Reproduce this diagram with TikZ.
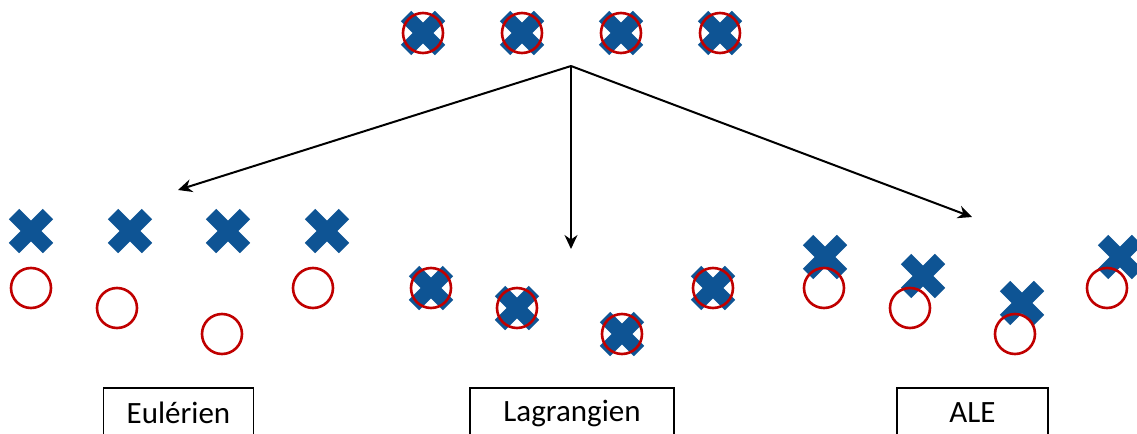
\documentclass[tikz,border=0pt]{standalone}
\usepackage{fontspec}
\setmainfont{Carlito}
\usetikzlibrary{arrows.meta}
\definecolor{bleucroix}{RGB}{14,84,148}
\definecolor{rougecercle}{RGB}{192,0,0}
\tikzset{
  croix/.style={line width=7.3pt, bleucroix},
  cercle/.style={line width=1.3pt, rougecercle},
  fleche/.style={line width=1pt, -{Stealth[length=7pt, width=6.5pt]}},
  boite/.style={draw, line width=0.7pt, minimum width=#1, minimum height=25pt,
    inner sep=0pt, font=\fontsize{15.5}{18}\selectfont}
}
\newcommand{\croixat}[2]{\draw[croix, shift={(#1,#2)}] (-17,-17) -- (17,17) (-17,17) -- (17,-17);}
\newcommand{\cercleat}[2]{\draw[cercle] (#1,#2) circle[radius=10pt];}
\begin{document}
\begin{tikzpicture}[x=0.5pt, y=-0.5pt]
  \useasboundingbox (0,0) rectangle (1137,434);

  % particules au depart
  \foreach \x in {423, 522, 621, 720} { \croixat{\x}{33} \cercleat{\x}{33} }

  % Eulerien : maillage fixe
  \foreach \x in {31, 130, 228, 327} { \croixat{\x}{231} }
  \foreach \x/\y in {31/288, 117/308, 222/334, 313/288} { \cercleat{\x}{\y} }

  % Lagrangien : maillage suit la matiere
  \foreach \x/\y in {431/288, 517/308, 622/334, 713/288} { \croixat{\x}{\y} \cercleat{\x}{\y} }

  % ALE
  \foreach \x/\y in {825/257, 923/276, 1022/303, 1120/257} { \croixat{\x}{\y} }
  \foreach \x/\y in {824/288, 910/308, 1015/334, 1107/288} { \cercleat{\x}{\y} }

  % fleches
  \coordinate (src) at (571,66);
  \coordinate (versE) at (178,190);
  \coordinate (versL) at (571,249);
  \coordinate (versA) at (972,217);
  \draw[fleche] (src) -- (versE);
  \draw[fleche] (src) -- (versL);
  \draw[fleche] (src) -- (versA);

  % etiquettes
  \node[boite=75pt] (euler) at (178.5,413) {Eulérien};
  \node[boite=102pt] (lagrange) at (572,413) {Lagrangien};
  \node[boite=75.5pt] (ale) at (972.5,413) {ALE};
\end{tikzpicture}
\end{document}
